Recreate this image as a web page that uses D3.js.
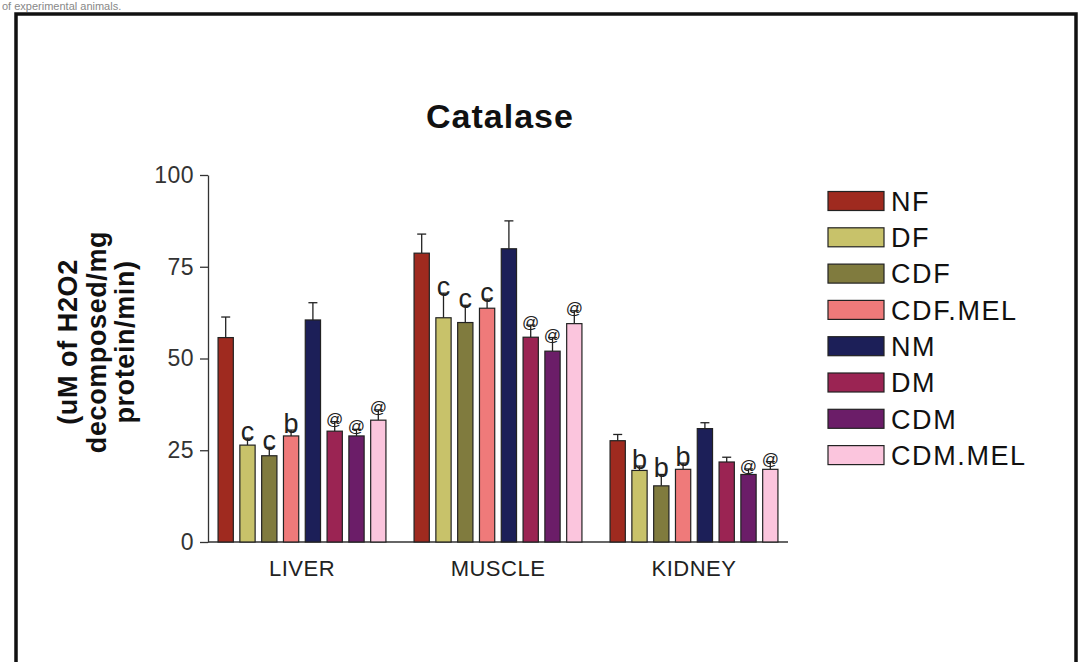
<!DOCTYPE html>
<html>
<head>
<meta charset="utf-8">
<script src="https://cdn.jsdelivr.net/npm/d3@7"></script>
<style>
  html, body { margin: 0; padding: 0; background: #fff; }
  svg { display: block; font-family: "Liberation Sans", Arial, Helvetica, sans-serif; }
</style>
</head>
<body>
<svg id="chart" width="1079" height="662"></svg>
<script>
// Tissues on the x axis and treatment groups within each tissue
const organs = ["LIVER", "MUSCLE", "KIDNEY"];
const groups = ["NF", "DF", "CDF", "CDF.MEL", "NM", "DM", "CDM", "CDM.MEL"];
const groupColors = ["#9f2a1f", "#c8c26a", "#807b3e", "#ef7a7a", "#1c1f58", "#9b2453", "#6b1d68", "#fbc5dd"];

// Catalase activity (mean) per tissue, in group order
const liverMean  = [55.7, 26.4, 23.5, 28.9, 60.5, 30.2, 28.9, 33.2];
const muscleMean = [78.7, 61.1, 59.8, 63.7, 79.9, 55.8, 52.0, 59.5];
const kidneyMean = [27.6, 19.5, 15.3, 19.8, 30.9, 21.8, 18.4, 19.8];

// Error (upper whisker length) per tissue
const liverErr  = [5.6, 1.9, 2.3, 1.6, 4.7, 2.6, 1.8, 2.8];
const muscleErr = [5.2, 6.7, 4.7, 2.5, 7.6, 3.3, 3.7, 3.5];
const kidneyErr = [1.7, 1.2, 3.1, 1.7, 1.6, 1.3, 1.5, 2.1];

// Significance marks drawn above the bars
const liverSig  = ["", "c", "c", "b", "", "@", "@", "@"];
const muscleSig = ["", "c", "c", "c", "", "@", "@", "@"];
const kidneySig = ["", "b", "b", "b", "", "", "@", "@"];

const yTicks = [0, 25, 50, 75, 100];
const titleText = "Catalase";
const yLabelLines = ["(uM of H2O2", "decomposed/mg", "protein/min)"];
const captionText = "of experimental animals.";

const means = [liverMean, muscleMean, kidneyMean];
const errs = [liverErr, muscleErr, kidneyErr];
const sigs = [liverSig, muscleSig, kidneySig];

const rows = [];
organs.forEach((o, oi) => {
  groups.forEach((g, gi) => {
    rows.push({ organ: o, group: g, mean: means[oi][gi], err: errs[oi][gi], sig: sigs[oi][gi], color: groupColors[gi] });
  });
});

const svg = d3.select("#chart");

// Layout
const axisX = 208, axisRight = 788;
const yTop = 175, yBottom = 542;

const y = d3.scaleLinear().domain([0, 100]).range([yBottom, yTop]);
const x0 = d3.scaleBand().domain(organs).range([204, 792]).padding(0);
const x1 = d3.scaleBand().domain(groups).range([0, x0.bandwidth()])
  .paddingInner(0.3).paddingOuter(0.645);
const color = d3.scaleOrdinal().domain(groups).range(groupColors);

// Outer frame
svg.append("rect")
  .attr("x", 16).attr("y", 14)
  .attr("width", 1060).attr("height", 720)
  .attr("fill", "none").attr("stroke", "#111").attr("stroke-width", 3.5);

// Caption line above the frame
svg.append("text")
  .attr("x", 2).attr("y", 10)
  .attr("font-size", 11).attr("fill", "#888")
  .text(captionText);

// Title
svg.append("text")
  .attr("x", 500).attr("y", 128)
  .attr("text-anchor", "middle")
  .attr("font-size", 34).attr("font-weight", "bold")
  .attr("letter-spacing", 1)
  .attr("fill", "#111")
  .text(titleText);

// Y axis
const yAxis = svg.append("g")
  .attr("transform", `translate(${axisX},0)`)
  .call(d3.axisLeft(y).tickValues(yTicks).tickSize(8).tickSizeOuter(0).tickPadding(6));
yAxis.select(".domain").attr("stroke", "#333").attr("stroke-width", 1.3);
yAxis.selectAll(".tick line").attr("stroke", "#333").attr("stroke-width", 1.3);
yAxis.selectAll(".tick text")
  .attr("font-size", 23).attr("fill", "#333")
  .attr("letter-spacing", 0.5)
  .attr("font-family", "Liberation Sans, Arial, sans-serif");

// Y axis title (three lines, rotated)
const yLab = svg.append("text")
  .attr("transform", "translate(68,342) rotate(-90)")
  .attr("text-anchor", "middle")
  .attr("font-size", 27).attr("font-weight", "bold")
  .attr("letter-spacing", 0.6)
  .attr("fill", "#111");
yLabelLines.forEach((line, i) => {
  yLab.append("tspan")
    .attr("x", 0).attr("dy", i === 0 ? "0.35em" : 28.5)
    .text(line);
});

// X axis
const xAxis = svg.append("g")
  .attr("transform", `translate(0,${yBottom})`)
  .call(d3.axisBottom(x0).tickSize(0).tickPadding(18));
xAxis.select(".domain")
  .attr("d", `M${axisX},0H${axisRight}`)
  .attr("stroke", "#333").attr("stroke-width", 1.3);
xAxis.selectAll(".tick text")
  .attr("font-size", 22).attr("fill", "#222")
  .attr("letter-spacing", 0.5)
  .attr("font-family", "Liberation Sans, Arial, sans-serif");

// Bars
const barG = svg.append("g");
const bar = barG.selectAll("g.bar")
  .data(rows)
  .join("g")
  .attr("class", "bar")
  .attr("transform", d => `translate(${x0(d.organ) + x1(d.group)},0)`);

// Error whiskers (upper only)
bar.append("line")
  .attr("x1", x1.bandwidth() / 2).attr("x2", x1.bandwidth() / 2)
  .attr("y1", d => y(d.mean)).attr("y2", d => y(d.mean + d.err))
  .attr("stroke", "#222").attr("stroke-width", 1.3);
bar.append("line")
  .attr("x1", x1.bandwidth() / 2 - 4.5).attr("x2", x1.bandwidth() / 2 + 4.5)
  .attr("y1", d => y(d.mean + d.err)).attr("y2", d => y(d.mean + d.err))
  .attr("stroke", "#222").attr("stroke-width", 1.3);

bar.append("rect")
  .attr("x", 0)
  .attr("width", x1.bandwidth())
  .attr("y", d => y(d.mean))
  .attr("height", d => y(0) - y(d.mean))
  .attr("fill", d => color(d.group))
  .attr("stroke", "#222").attr("stroke-width", 1.2);

// Significance marks
bar.filter(d => d.sig !== "")
  .append("text")
  .attr("x", x1.bandwidth() / 2)
  .attr("y", d => y(d.mean + d.err) + 3)
  .attr("text-anchor", "middle")
  .attr("font-size", d => d.sig === "@" ? 17 : 27)
  .attr("fill", "#222")
  .text(d => d.sig);

// Legend
const legend = svg.append("g").attr("transform", "translate(828,201)");
const item = legend.selectAll("g")
  .data(groups)
  .join("g")
  .attr("transform", (d, i) => `translate(0,${i * 36.3})`);
item.append("rect")
  .attr("x", 0).attr("y", -9.5)
  .attr("width", 56).attr("height", 19)
  .attr("fill", d => color(d))
  .attr("stroke", "#222").attr("stroke-width", 1.2);
item.append("text")
  .attr("x", 63).attr("y", 0).attr("dy", "0.36em")
  .attr("font-size", 27).attr("letter-spacing", 1.6)
  .attr("fill", "#111")
  .text(d => d);
</script>
</body>
</html>
